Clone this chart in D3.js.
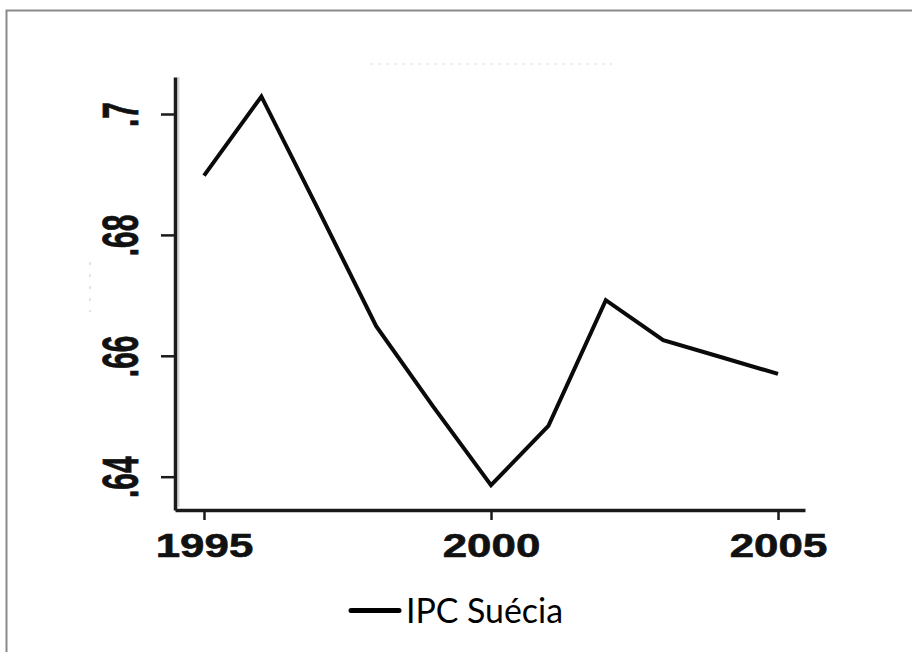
<!DOCTYPE html>
<html>
<head>
<meta charset="utf-8">
<script src="https://cdn.jsdelivr.net/npm/d3@7"></script>
<style>
  html, body { margin: 0; padding: 0; background: #fff; }
  svg { display: block; }
</style>
</head>
<body>
<svg id="chart" width="912" height="652"></svg>
<script>
// ---- data ----
const years  = [1995, 1996, 1997, 1998, 1999, 2000, 2001, 2002, 2003, 2004, 2005];
const ipcSuecia = [0.6898, 0.7029, 0.6840, 0.6649, 0.6515, 0.6386, 0.6484, 0.6692, 0.6626, 0.6598, 0.6570];
const xTickValues = [1995, 2000, 2005];
const xTickLabels = ["1995", "2000", "2005"];
const yTickValues = [0.64, 0.66, 0.68, 0.70];
const yTickLabels = [".64", ".66", ".68", ".7"];
const seriesName = "IPC Suécia";

// ---- layout ----
const svg = d3.select("#chart");
const W = 912, H = 652;
svg.append("rect").attr("width", W).attr("height", H).attr("fill", "#fff");

// outer frame (extends past right/bottom edge as in reference)
svg.append("rect")
  .attr("x", 6.5).attr("y", 10.5)
  .attr("width", W + 20).attr("height", H + 20)
  .attr("fill", "none").attr("stroke", "#8a8a8a").attr("stroke-width", 2);

const x = d3.scaleLinear().domain([1994.495, 2005.47]).range([175, 805]);
const y = d3.scaleLinear().domain([0.63449, 0.70612]).range([510, 77]);

// faint remnants (title / axis title)
svg.append("line").attr("x1", 370).attr("x2", 612).attr("y1", 64).attr("y2", 64)
  .attr("stroke", "#ececec").attr("stroke-width", 2).attr("stroke-dasharray", "3,5");
svg.append("line").attr("x1", 90).attr("x2", 90).attr("y1", 262).attr("y2", 312)
  .attr("stroke", "#e4e4e4").attr("stroke-width", 2).attr("stroke-dasharray", "3,9");

// axis shadow
svg.append("line").attr("x1", 178.5).attr("x2", 178.5).attr("y1", 77).attr("y2", 507)
  .attr("stroke", "#d6d6d6").attr("stroke-width", 2);

// Y axis
const yAxis = d3.axisLeft(y)
  .tickValues(yTickValues)
  .tickFormat((d, i) => yTickLabels[i])
  .tickSize(14).tickSizeOuter(0);
const gy = svg.append("g").attr("transform", "translate(175,0)").call(yAxis);
gy.select(".domain").attr("stroke", "#1a1a1a").attr("stroke-width", 3.5);
gy.selectAll(".tick line").attr("stroke", "#1a1a1a").attr("stroke-width", 2.5);
gy.selectAll(".tick text")
  .attr("x", null).attr("dy", null).attr("y", null)
  .attr("transform", "translate(-37,0) scale(1.65,1) rotate(-90)")
  .attr("text-anchor", "middle")
  .attr("fill", "#111").attr("stroke", "#111").attr("stroke-width", 0.5)
  .style("font-family", "'Liberation Sans', Arial, sans-serif")
  .style("font-weight", "bold")
  .style("font-size", "30px");

// X axis
const xAxis = d3.axisBottom(x)
  .tickValues(xTickValues)
  .tickFormat((d, i) => xTickLabels[i])
  .tickSize(10).tickSizeOuter(0);
const gx = svg.append("g").attr("transform", "translate(0,510)").call(xAxis);
gx.select(".domain").attr("stroke", "#1a1a1a").attr("stroke-width", 3.5);
gx.selectAll(".tick line").attr("stroke", "#1a1a1a").attr("stroke-width", 2.5);
gx.selectAll(".tick text")
  .attr("y", null).attr("dy", null)
  .attr("transform", "translate(0,47) scale(1.33,1)")
  .attr("text-anchor", "middle")
  .attr("fill", "#111").attr("stroke", "#111").attr("stroke-width", 0.6)
  .style("font-family", "'Liberation Sans', Arial, sans-serif")
  .style("font-weight", "bold")
  .style("font-size", "33px");

// line
const line = d3.line().x((d, i) => x(years[i])).y(d => y(d));
svg.append("path")
  .datum(ipcSuecia)
  .attr("d", line)
  .attr("fill", "none")
  .attr("stroke", "#0a0a0a")
  .attr("stroke-width", 4)
  .attr("stroke-linejoin", "miter")
  .attr("stroke-linecap", "butt");

// legend
const lg = svg.append("g");
lg.append("line").attr("x1", 351).attr("x2", 399).attr("y1", 610.5).attr("y2", 610.5)
  .attr("stroke", "#000").attr("stroke-width", 5).attr("stroke-linecap", "round");
lg.append("text")
  .attr("x", 406).attr("y", 623)
  .attr("textLength", 157).attr("lengthAdjust", "spacingAndGlyphs")
  .attr("fill", "#000")
  .style("font-family", "Lato, 'Open Sans', sans-serif")
  .style("font-size", "34px")
  .text(seriesName);
</script>
</body>
</html>
